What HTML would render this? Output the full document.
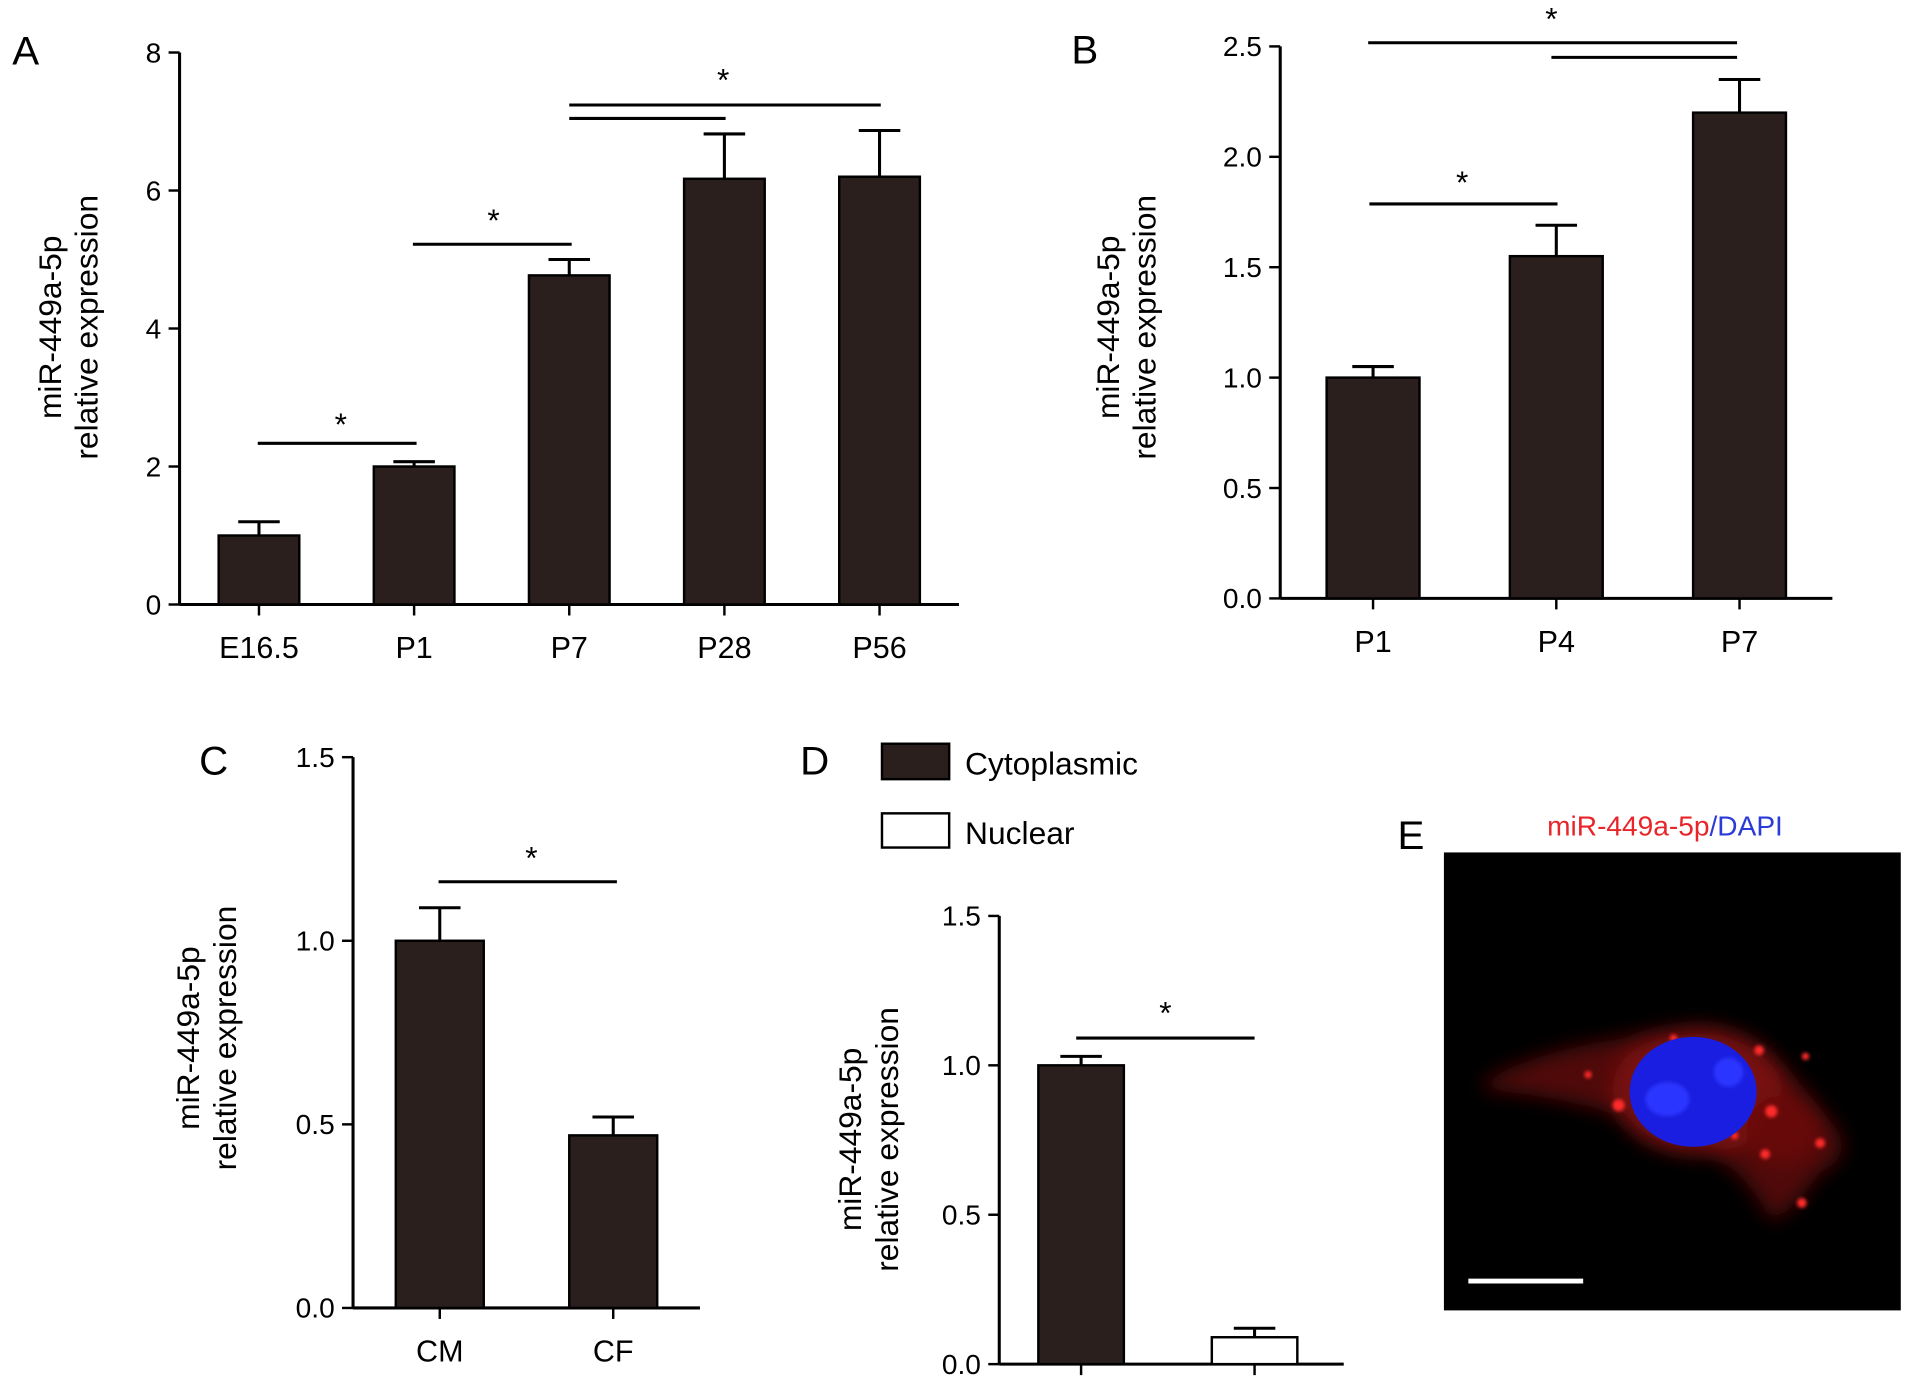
<!DOCTYPE html>
<html><head><meta charset="utf-8">
<style>
html,body{margin:0;padding:0;background:#fff;}
svg{display:block;font-family:"Liberation Sans",Arial,sans-serif;}
</style></head>
<body>
<svg id="fig" width="1913" height="1391" viewBox="0 0 1566 1139" preserveAspectRatio="none" xmlns="http://www.w3.org/2000/svg">
<defs>
<filter id="blur" x="-50%" y="-50%" width="200%" height="200%"><feGaussianBlur stdDeviation="8"/></filter>
<filter id="blur2"><feGaussianBlur stdDeviation="1.5"/></filter>
</defs>
<g id="root"></g>
<g>
<text x="1144" y="695" font-size="33">E</text>
<text x="1363" y="684" font-size="23" text-anchor="middle"><tspan fill="#e8262a">miR-449a-5p</tspan><tspan fill="#2a3bd8">/DAPI</tspan></text>
<rect x="1182" y="698" width="374" height="375" fill="#000"/>
<g filter="url(#blur)" opacity="0.75">
<path d="M1215 885 Q1260 860 1330 850 Q1380 835 1440 855 Q1470 880 1500 920 Q1520 945 1490 960 Q1470 990 1450 1000 Q1430 960 1400 945 Q1360 935 1330 915 Q1290 900 1215 892 Z" fill="#6a0808"/>
<ellipse cx="1390" cy="893" rx="70" ry="52" fill="#a01414"/>
<ellipse cx="1460" cy="925" rx="30" ry="28" fill="#8a0e0e"/>
</g>
<g filter="url(#blur2)" fill="#ff2a2a">
<circle cx="1325" cy="905" r="5"/><circle cx="1490" cy="936" r="4"/><circle cx="1450" cy="910" r="5"/><circle cx="1445" cy="945" r="4"/><circle cx="1478" cy="865" r="3"/><circle cx="1440" cy="860" r="4"/><circle cx="1370" cy="850" r="3"/><circle cx="1475" cy="985" r="4"/><circle cx="1300" cy="880" r="3"/><circle cx="1420" cy="930" r="3"/>
</g>
<ellipse cx="1386" cy="894" rx="52" ry="45" fill="#1a1ee0"/>
<ellipse cx="1365" cy="900" rx="18" ry="14" fill="#2b36ff" filter="url(#blur2)"/>
<ellipse cx="1415" cy="878" rx="12" ry="12" fill="#2b36ff" filter="url(#blur2)"/>
<line x1="1202" y1="1049" x2="1296" y2="1049" stroke="#fff" stroke-width="4"/>
</g>
<g>
<rect x="722" y="609" width="55" height="29" fill="#2a1f1d" stroke="#000" stroke-width="2"/>
<text x="790" y="634" font-size="26">Cytoplasmic</text>
<rect x="722" y="666" width="55" height="28" fill="#fff" stroke="#000" stroke-width="2"/>
<text x="790" y="691" font-size="26">Nuclear</text>
</g>
</svg>
<script>
const catsA = ["E16.5","P1","P7","P28","P56"];
const valsA = [1.0, 2.0, 4.77, 6.17, 6.2];
const errA = [0.2, 0.07, 0.23, 0.65, 0.67];
const ticksA = [0,2,4,6,8];
const catsB = ["P1","P4","P7"];
const valsB = [1.0, 1.55, 2.2];
const errB = [0.05, 0.14, 0.15];
const ticksB = ["0.0","0.5","1.0","1.5","2.0","2.5"];
const catsC = ["CM","CF"];
const valsC = [1.0, 0.47];
const errC = [0.09, 0.05];
const ticksC = ["0.0","0.5","1.0","1.5"];
const catsD = ["Cytoplasmic","Nuclear"];
const valsD = [1.0, 0.09];
const errD = [0.03, 0.03];
const ticksD = ["0.0","0.5","1.0","1.5"];

const NS="http://www.w3.org/2000/svg";
const root=document.getElementById('root');
function mk(tag,attrs,parent){const e=document.createElementNS(NS,tag);for(const k in attrs)e.setAttribute(k,attrs[k]);(parent||root).appendChild(e);return e;}

function panel(o){
  const g=mk('g',{});
  
  
  const y=v=>o.y0-v/o.max*(o.y0-o.yTop);
  const L=mk('text',{x:o.letter[0],y:o.letter[1],'font-size':33},g);L.textContent=o.id.toUpperCase();
  
  
  const ax=mk('line',{x1:o.ax,y1:o.yTop,x2:o.ax,y2:o.y0,stroke:'#000','stroke-width':2.5},g);
  
  
  const xa=mk('line',{x1:o.ax,y1:o.y0,x2:o.xEnd,y2:o.y0,stroke:'#000','stroke-width':2.5},g);
  
  
  o.ticks.forEach(t=>{const v=parseFloat(t);const yy=y(v);
    mk('line',{x1:o.ax-9,y1:yy,x2:o.ax,y2:yy,stroke:'#000','stroke-width':2},g);
    const tx=mk('text',{x:o.ax-15,y:yy+8,'font-size':23,'text-anchor':'end'},g);tx.textContent=t;
    
    
  });
  o.cats.forEach((c,i)=>{const cx=o.xs[i];
    const v=o.vals[i],e=o.errs[i];
    const el=mk('line',{x1:cx,y1:y(v),x2:cx,y2:y(v+e),stroke:'#000','stroke-width':2.5},g);
    
    
    mk('line',{x1:cx-17,y1:y(v+e),x2:cx+17,y2:y(v+e),stroke:'#000','stroke-width':2.5},g);
    const fill=(o.fills&&o.fills[i])||'#2a1f1d';
    const b=mk('rect',{x:cx-o.bw/2,y:y(v),width:o.bw,height:o.y0-y(v),fill:fill,stroke:'#000','stroke-width':2},g);
    
    
    mk('line',{x1:cx,y1:o.y0,x2:cx,y2:o.y0+9,stroke:'#000','stroke-width':2},g);
    if(o.showX){const t=mk('text',{x:cx,y:o.y0+44,'font-size':25,'text-anchor':'middle'},g);t.textContent=c;
      
      }
  });
  o.sig.forEach(s=>{const l=mk('line',{x1:s[0],y1:s[2],x2:s[1],y2:s[2],stroke:'#000','stroke-width':2.5},g);
    
    });
  o.stars.forEach(s=>{const t=mk('text',{x:s[0],y:s[1]+16,'font-size':26,'text-anchor':'middle'},g);t.textContent='*';
    
    });
  const yl=mk('text',{transform:`translate(${o.lab[0]},${o.lab[2]}) rotate(-90)`,'font-size':26,'text-anchor':'middle'},g);
  
  
  const t1=mk('tspan',{x:0,y:0},yl);t1.textContent='miR-449a-5p';
  const t2=mk('tspan',{x:0,y:o.lab[1]-o.lab[0]},yl);t2.textContent='relative expression';
}

panel({id:'a',letter:[10,53],ax:147,y0:495,yTop:43,max:8,xEnd:785,ticks:ticksA.map(String),cats:catsA,vals:valsA,errs:errA,
  xs:[212,339,466,593,720],bw:66,showX:true,
  sig:[[211,341,363],[338,468,200],[466,594,97],[466,721,86]],stars:[[279,340],[404,173],[592,58]],lab:[50,80,268]});
panel({id:'b',letter:[877,52],ax:1048,y0:490,yTop:38,max:2.5,xEnd:1500,ticks:ticksB,cats:catsB,vals:valsB,errs:errB,
  xs:[1124,1274,1424],bw:76,showX:true,
  sig:[[1121,1275,167],[1270,1422,47],[1120,1422,35]],stars:[[1197,142],[1270,8]],lab:[916,946,268]});
panel({id:'c',letter:[163,634],ax:289,y0:1071,yTop:620,max:1.5,xEnd:573,ticks:ticksC,cats:catsC,vals:valsC,errs:errC,
  xs:[360,502],bw:72,showX:true,
  sig:[[359,505,722]],stars:[[435,695]],lab:[163,193,850]});
panel({id:'d',letter:[655,634],ax:818,y0:1117,yTop:750,max:1.5,xEnd:1100,ticks:ticksD,cats:catsD,vals:valsD,errs:errD,
  xs:[885,1027],bw:70,showX:false,fills:['#2a1f1d','#fff'],
  sig:[[881,1027,850]],stars:[[954,822]],lab:[705,735,933]});
</script>
</body></html>
